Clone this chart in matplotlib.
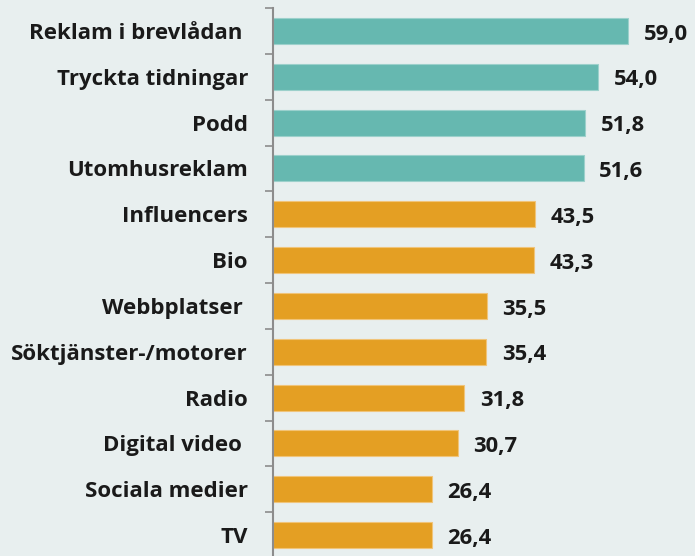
import numpy as np
import matplotlib.pyplot as plt
from matplotlib.ticker import FixedLocator

# Data
categories = ["Reklam i brevlådan ", "Tryckta tidningar", "Podd", "Utomhusreklam",
              "Influencers", "Bio", "Webbplatser ", "Söktjänster-/motorer",
              "Radio", "Digital video ", "Sociala medier", "TV"]
values = [59.0, 54.0, 51.8, 51.6, 43.5, 43.3, 35.5, 35.4, 31.8, 30.7, 26.4, 26.4]
groups = ["top"] * 4 + ["rest"] * 8

colors = {"top": "#66B8B0", "rest": "#E49F23"}
edges = {"top": "#9CD0CB", "rest": "#F0C47A"}
bg = "#E8EFEF"

plt.rcParams['font.family'] = ['Open Sans', 'DejaVu Sans']

fig = plt.figure(figsize=(6.95, 5.56), dpi=100, facecolor=bg)
ax = fig.add_axes([273 / 695, -2 / 556, 422 / 695, 550 / 556])
ax.set_facecolor(bg)

y = np.arange(len(categories))
ax.barh(y, values, height=0.57,
        color=[colors[g] for g in groups],
        edgecolor=[edges[g] for g in groups], linewidth=0.8)

# value labels with comma decimal separator
for yi, v in zip(y, values):
    ax.text(v + 2.6, yi + 0.07, f"{v:.1f}".replace(".", ","), ha="left", va="center",
            fontsize=15.8, fontweight="bold", color="#1a1a1a")

ax.set_xlim(0, 70.1)
ax.set_ylim(len(categories) - 0.5, -0.5)
ax.set_yticks(y)
ax.set_yticklabels(categories, fontsize=16, fontweight="bold", color="#1a1a1a")
ax.yaxis.set_minor_locator(FixedLocator(np.arange(-0.5, len(categories), 1)))
ax.tick_params(axis="y", which="major", length=0, pad=18)
ax.tick_params(axis="y", which="minor", length=6, width=1.2, color="#8c8c8c")
ax.set_xticks([])

for s in ["top", "right", "bottom"]:
    ax.spines[s].set_visible(False)
ax.spines["left"].set_color("#8c8c8c")
ax.spines["left"].set_linewidth(1.5)

fig.savefig("out.png", dpi=100, facecolor=bg)
